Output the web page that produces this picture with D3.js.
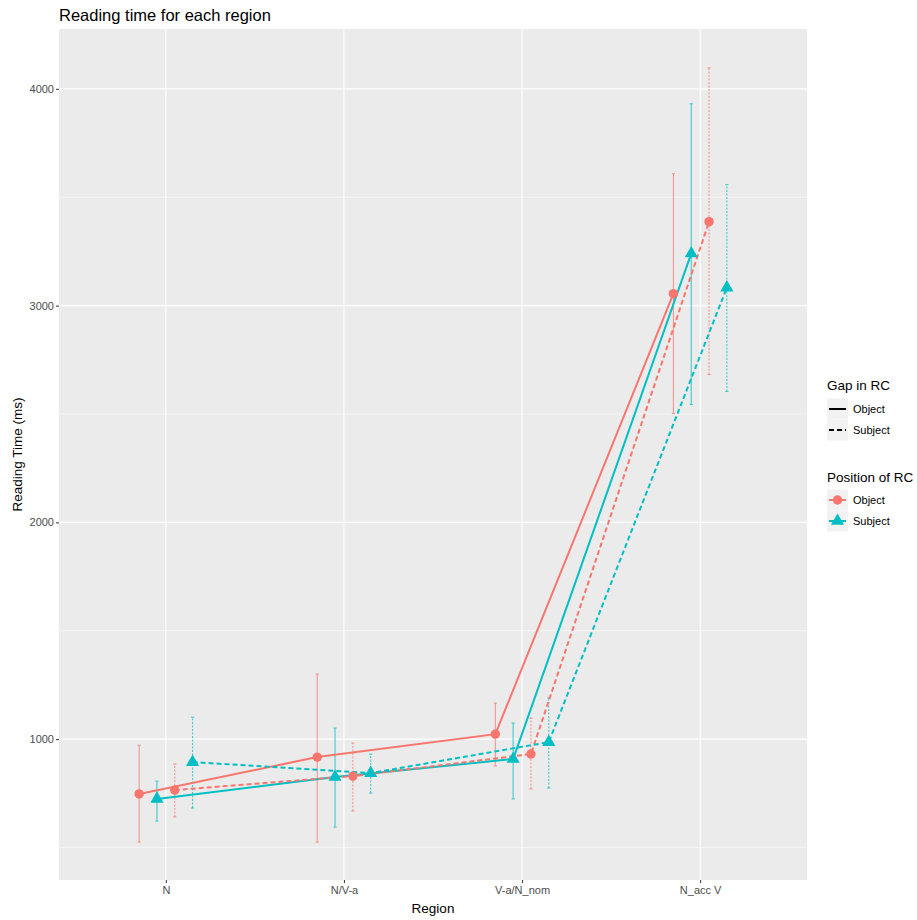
<!DOCTYPE html>
<html>
<head>
<meta charset="utf-8">
<script src="https://cdn.jsdelivr.net/npm/d3@7"></script>
<style>
  body { margin: 0; background: #fff; }
  text { font-family: "Liberation Sans", Arial, sans-serif; }
</style>
</head>
<body>
<div id="chart"></div>
<script>
// Reading time per region, by gap in RC (linetype) and position of RC (colour/shape)
const regions = ["N", "N/V-a", "V-a/N_nom", "N_acc V"];
const yTicks = [1000, 2000, 3000, 4000];
const yMinor = [500, 1500, 2500, 3500];

// gap Object / position Object
const meanOO = [747, 917, 1023, 3055];
const lowOO = [525, 525, 876, 2502];
const highOO = [972, 1300, 1166, 3608];
// gap Object / position Subject
const meanOS = [724, 825, 908, 3240];
const lowOS = [622, 594, 724, 2544];
const highOS = [806, 1051, 1074, 3931];
// gap Subject / position Object
const meanSO = [765, 829, 931, 3387];
const lowSO = [641, 668, 770, 2682];
const highSO = [885, 982, 1097, 4097];
// gap Subject / position Subject
const meanSS = [894, 843, 986, 3083];
const lowSS = [682, 751, 774, 2604];
const highSS = [1101, 931, 1189, 3558];

const series = [
  { gap: "Object", pos: "Object", mean: meanOO, low: lowOO, high: highOO },
  { gap: "Object", pos: "Subject", mean: meanOS, low: lowOS, high: highOS },
  { gap: "Subject", pos: "Object", mean: meanSO, low: lowSO, high: highSO },
  { gap: "Subject", pos: "Subject", mean: meanSS, low: lowSS, high: highSS }
];
const dodge = [-0.15, -0.05, 0.05, 0.15];

const red = "#F8766D", teal = "#00BFC4";
const colour = d3.scaleOrdinal().domain(["Object", "Subject"]).range([red, teal]);
const lineDash = d3.scaleOrdinal().domain(["Object", "Subject"]).range([null, "5,3"]);
const barDash = d3.scaleOrdinal().domain(["Object", "Subject"]).range([null, "2,1.5"]);

const W = 917, H = 920;
const panel = { left: 59, right: 807, top: 29, bottom: 880 };

const svg = d3.select("#chart").append("svg")
  .attr("width", W)
  .attr("height", H);

const x = d3.scalePoint().domain(regions).range([panel.left, panel.right]).padding(0.6);
const y = d3.scaleLinear().domain([350, 4276]).range([panel.bottom, panel.top]);
const step = x.step();

// panel + grid
svg.append("rect")
  .attr("x", panel.left).attr("y", panel.top)
  .attr("width", panel.right - panel.left).attr("height", panel.bottom - panel.top)
  .attr("fill", "#EBEBEB");

svg.selectAll(".minor").data(yMinor).enter().append("line")
  .attr("x1", panel.left).attr("x2", panel.right)
  .attr("y1", d => y(d)).attr("y2", d => y(d))
  .attr("stroke", "#fff").attr("stroke-width", 0.55);

svg.selectAll(".hmajor").data(yTicks).enter().append("line")
  .attr("x1", panel.left).attr("x2", panel.right)
  .attr("y1", d => y(d)).attr("y2", d => y(d))
  .attr("stroke", "#fff").attr("stroke-width", 1.1);

svg.selectAll(".vmajor").data(regions).enter().append("line")
  .attr("y1", panel.top).attr("y2", panel.bottom)
  .attr("x1", d => x(d)).attr("x2", d => x(d))
  .attr("stroke", "#fff").attr("stroke-width", 1.1);

// axes
const yAxis = svg.append("g")
  .attr("transform", `translate(${panel.left},0)`)
  .call(d3.axisLeft(y).tickValues(yTicks).tickSize(3).tickPadding(2).tickFormat(d3.format("d")));
const xAxis = svg.append("g")
  .attr("transform", `translate(0,${panel.bottom})`)
  .call(d3.axisBottom(x).tickSize(3).tickPadding(3));
[xAxis, yAxis].forEach(g => {
  g.select(".domain").remove();
  g.selectAll(".tick line").attr("stroke", "#333").attr("stroke-width", 1);
  g.selectAll(".tick text").attr("fill", "#4D4D4D").style("font-size", "11px")
    .style("font-family", "'Liberation Sans', Arial, sans-serif");
});

// error bars
const capW = 1.6;
series.forEach((s, si) => {
  const g = svg.append("g").attr("opacity", 0.72);
  regions.forEach((r, i) => {
    const cx = x(r) + dodge[si] * step;
    const stroke = colour(s.pos);
    g.append("line")
      .attr("x1", cx).attr("x2", cx)
      .attr("y1", y(s.low[i])).attr("y2", y(s.high[i]))
      .attr("stroke", stroke).attr("stroke-width", 1.1)
      .attr("stroke-dasharray", barDash(s.gap));
    [s.low[i], s.high[i]].forEach(v => {
      g.append("line")
        .attr("x1", cx - capW).attr("x2", cx + capW)
        .attr("y1", y(v)).attr("y2", y(v))
        .attr("stroke", stroke).attr("stroke-width", 1.1);
    });
  });
});

// lines
const line = d3.line().x(d => d[0]).y(d => d[1]);
series.forEach((s, si) => {
  const pts = regions.map((r, i) => [x(r) + dodge[si] * step, y(s.mean[i])]);
  svg.append("path")
    .attr("d", line(pts))
    .attr("fill", "none")
    .attr("stroke", colour(s.pos))
    .attr("stroke-width", 2)
    .attr("stroke-dasharray", lineDash(s.gap));
});

// points
const circleSym = d3.symbol().type(d3.symbolCircle).size(70);
const triSym = d3.symbol().type(d3.symbolTriangle).size(75);
series.forEach((s, si) => {
  regions.forEach((r, i) => {
    svg.append("path")
      .attr("d", s.pos === "Object" ? circleSym() : triSym())
      .attr("transform", `translate(${x(r) + dodge[si] * step},${y(s.mean[i])})`)
      .attr("fill", colour(s.pos));
  });
});

// titles
svg.append("text").attr("x", panel.left).attr("y", 21)
  .style("font-size", "16.5px").attr("fill", "#000")
  .text("Reading time for each region");
svg.append("text")
  .attr("transform", `translate(22,${(panel.top + panel.bottom) / 2}) rotate(-90)`)
  .attr("text-anchor", "middle").style("font-size", "13.5px")
  .text("Reading Time (ms)");
svg.append("text")
  .attr("x", (panel.left + panel.right) / 2).attr("y", 913)
  .attr("text-anchor", "middle").style("font-size", "13.5px")
  .text("Region");

// legends
const lx = 827;
const gapLeg = svg.append("g");
gapLeg.append("text").attr("x", lx).attr("y", 390).style("font-size", "13.5px").text("Gap in RC");
["Object", "Subject"].forEach((k, i) => {
  const cy = 409 + i * 21;
  gapLeg.append("rect").attr("x", lx).attr("y", cy - 10.5).attr("width", 21).attr("height", 21).attr("fill", "#F2F2F2");
  gapLeg.append("line").attr("x1", lx + 2).attr("x2", lx + 19).attr("y1", cy).attr("y2", cy)
    .attr("stroke", "#000").attr("stroke-width", 2).attr("stroke-dasharray", lineDash(k));
  gapLeg.append("text").attr("x", lx + 26).attr("y", cy + 4).style("font-size", "11px").text(k);
});

const posLeg = svg.append("g");
posLeg.append("text").attr("x", lx).attr("y", 482).style("font-size", "13.5px").text("Position of RC");
["Object", "Subject"].forEach((k, i) => {
  const cy = 500 + i * 21;
  posLeg.append("rect").attr("x", lx).attr("y", cy - 10.5).attr("width", 21).attr("height", 21).attr("fill", "#F2F2F2");
  posLeg.append("line").attr("x1", lx + 2).attr("x2", lx + 19).attr("y1", cy).attr("y2", cy)
    .attr("stroke", colour(k)).attr("stroke-width", 2);
  posLeg.append("path").attr("d", k === "Object" ? circleSym() : triSym())
    .attr("transform", `translate(${lx + 10.5},${cy})`).attr("fill", colour(k));
  posLeg.append("text").attr("x", lx + 26).attr("y", cy + 4).style("font-size", "11px").text(k);
});
</script>
</body>
</html>
